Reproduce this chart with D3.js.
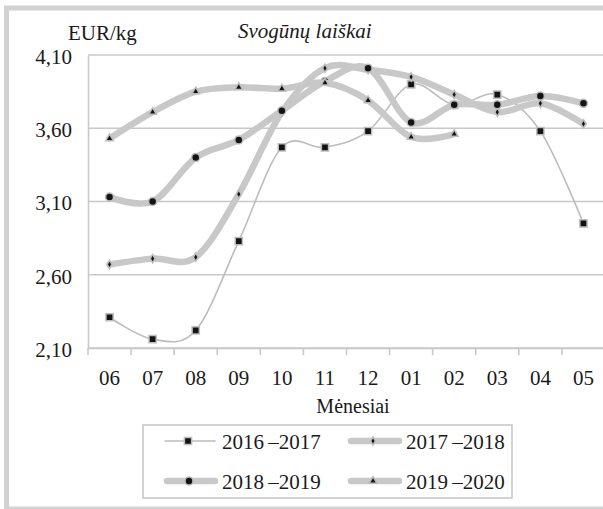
<!DOCTYPE html>
<html>
<head>
<meta charset="UTF-8" />
<script src="https://cdn.jsdelivr.net/npm/d3@7"></script>
<style>
    body { margin: 0; background: white; }
</style>
</head>
<body>
<div id="chart"></div>
<script>
const months = ["06", "07", "08", "09", "10", "11", "12", "01", "02", "03", "04", "05"];
const s1617 = [2.31, 2.16, 2.22, 2.83, 3.47, 3.47, 3.58, 3.90, 3.76, 3.83, 3.58, 2.95];
const s1718 = [2.67, 2.71, 2.72, 3.15, 3.71, 4.01, 4.00, 3.95, 3.83, 3.71, 3.77, 3.63];
const s1819 = [3.13, 3.10, 3.40, 3.52, 3.72, 3.92, 4.01, 3.64, 3.76, 3.76, 3.82, 3.77];
const s1920 = [3.53, 3.71, 3.85, 3.88, 3.87, 3.91, 3.79, 3.54, 3.56, null, null, null];
const yTicks = [2.10, 2.60, 3.10, 3.60, 4.10];
const seriesNames = ["2016\u2009\u20132017", "2017\u2009\u20132018", "2018\u2009\u20132019", "2019\u2009\u20132020"];

const w = 603, h = 509;
const grid = "#c8c8c8";
const serif = "'Liberation Serif', Tinos, 'Times New Roman', serif";

const series = [
    {name: seriesNames[0], values: s1617, width: 1.6, shape: d3.symbolSquare, size: 52},
    {name: seriesNames[1], values: s1718, width: 6.5, shape: d3.symbolDiamond, size: 20},
    {name: seriesNames[2], values: s1819, width: 6.5, shape: d3.symbolCircle, size: 50},
    {name: seriesNames[3], values: s1920, width: 6.5, shape: d3.symbolTriangle, size: 26}
];

const svg = d3.select("#chart").append("svg")
    .attr("width", w)
    .attr("height", h);

// outer frame
svg.append("rect")
    .attr("x", 6.5).attr("y", 8)
    .attr("width", 700).attr("height", 501)
    .attr("fill", "white")
    .attr("stroke", "#d2d2d2")
    .attr("stroke-width", 5);

const xScale = d3.scaleBand()
    .domain(months)
    .range([88, 605]);
const yScale = d3.scaleLinear()
    .domain([2.10, 4.10])
    .range([348, 55]);

// gridlines
svg.append("g")
    .selectAll("line")
    .data(yTicks)
    .enter()
    .append("line")
    .attr("x1", 88).attr("x2", 605)
    .attr("y1", d => yScale(d)).attr("y2", d => yScale(d))
    .attr("stroke", grid)
    .attr("stroke-width", 1.6);

const yAxis = d3.axisLeft(yScale)
    .tickValues(yTicks)
    .tickSize(0)
    .tickPadding(16)
    .tickFormat(d => d3.format(".2f")(d).replace(".", ","));
const gy = svg.append("g")
    .attr("transform", "translate(88,0)")
    .call(yAxis);
gy.select(".domain").attr("stroke", grid).attr("stroke-width", 1.6);
gy.selectAll("text").attr("font-size", 21).attr("dy", "0.4em");

const xAxis = d3.axisBottom(xScale).tickSize(0).tickPadding(22);
const gx = svg.append("g")
    .attr("transform", "translate(0,348)")
    .call(xAxis);
gx.select(".domain").attr("stroke", grid).attr("stroke-width", 1.6);
gx.selectAll("text").attr("font-size", 21);
gx.selectAll(".tk")
    .data(months.map(m => xScale(m)))
    .enter()
    .append("line")
    .attr("x1", d => d).attr("x2", d => d)
    .attr("y1", 0).attr("y2", 7)
    .attr("stroke", grid)
    .attr("stroke-width", 1.6);

// texts
svg.append("text").attr("x", 68).attr("y", 40).attr("font-size", 21).text("EUR/kg");
svg.append("text").attr("x", 238).attr("y", 38).attr("font-size", 21)
    .attr("font-style", "italic").text("Svogūnų laiškai");
svg.append("text").attr("x", 353).attr("y", 413).attr("font-size", 20)
    .attr("text-anchor", "middle").text("Mėnesiai");

const cx = i => xScale(months[i]) + xScale.bandwidth() / 2;
const line = d3.line()
    .defined(d => d != null)
    .x((d, i) => cx(i))
    .y(d => yScale(d))
    .curve(d3.curveCardinal.tension(0));

series.forEach(s => {
    svg.append("path")
        .attr("d", line(s.values))
        .attr("fill", "none")
        .attr("stroke", s.width > 2 ? "#c8c8c8" : "#bcbcbc")
        .attr("stroke-width", s.width)
        .attr("stroke-linecap", "round")
        .attr("stroke-linejoin", "round");
    svg.append("g")
        .selectAll("path")
        .data(s.values.map((v, i) => [i, v]).filter(d => d[1] != null))
        .enter()
        .append("path")
        .attr("d", d3.symbol().type(s.shape).size(s.size))
        .attr("transform", d => "translate(" + cx(d[0]) + "," + yScale(d[1]) + ")")
        .attr("fill", "#141414")
        .attr("stroke", "#bdbdbd")
        .attr("stroke-width", 1.5);
});

// legend
svg.append("rect")
    .attr("x", 143).attr("y", 425)
    .attr("width", 369).attr("height", 73)
    .attr("fill", "white")
    .attr("stroke", grid)
    .attr("stroke-width", 1.6);

const legendPos = [[165, 441], [348, 441], [164, 481], [348, 481]];
series.forEach((s, k) => {
    const [lx, ly] = legendPos[k];
    const g = svg.append("g").attr("transform", "translate(" + lx + "," + ly + ")");
    g.append("line")
        .attr("x1", s.width > 2 ? 3 : 0).attr("x2", s.width > 2 ? 51 : 50)
        .attr("y1", 0).attr("y2", 0)
        .attr("stroke", s.width > 2 ? "#c8c8c8" : "#bcbcbc")
        .attr("stroke-width", s.width)
        .attr("stroke-linecap", "round");
    g.append("path")
        .attr("d", d3.symbol().type(s.shape).size(s.size))
        .attr("transform", "translate(" + (s.width > 2 ? 25 : 23) + ",0)")
        .attr("fill", "#141414")
        .attr("stroke", "#bdbdbd")
        .attr("stroke-width", 1.5);
    g.append("text")
        .attr("x", s.width > 2 ? 58 : 57).attr("y", 0).attr("dy", "0.36em")
        .attr("font-size", 21)
        .text(s.name);
});

// all text in a Times-like serif
svg.selectAll("text")
    .style("font-family", serif)
    .style("fill", "#1a1a1a");
</script>
</body>
</html>
